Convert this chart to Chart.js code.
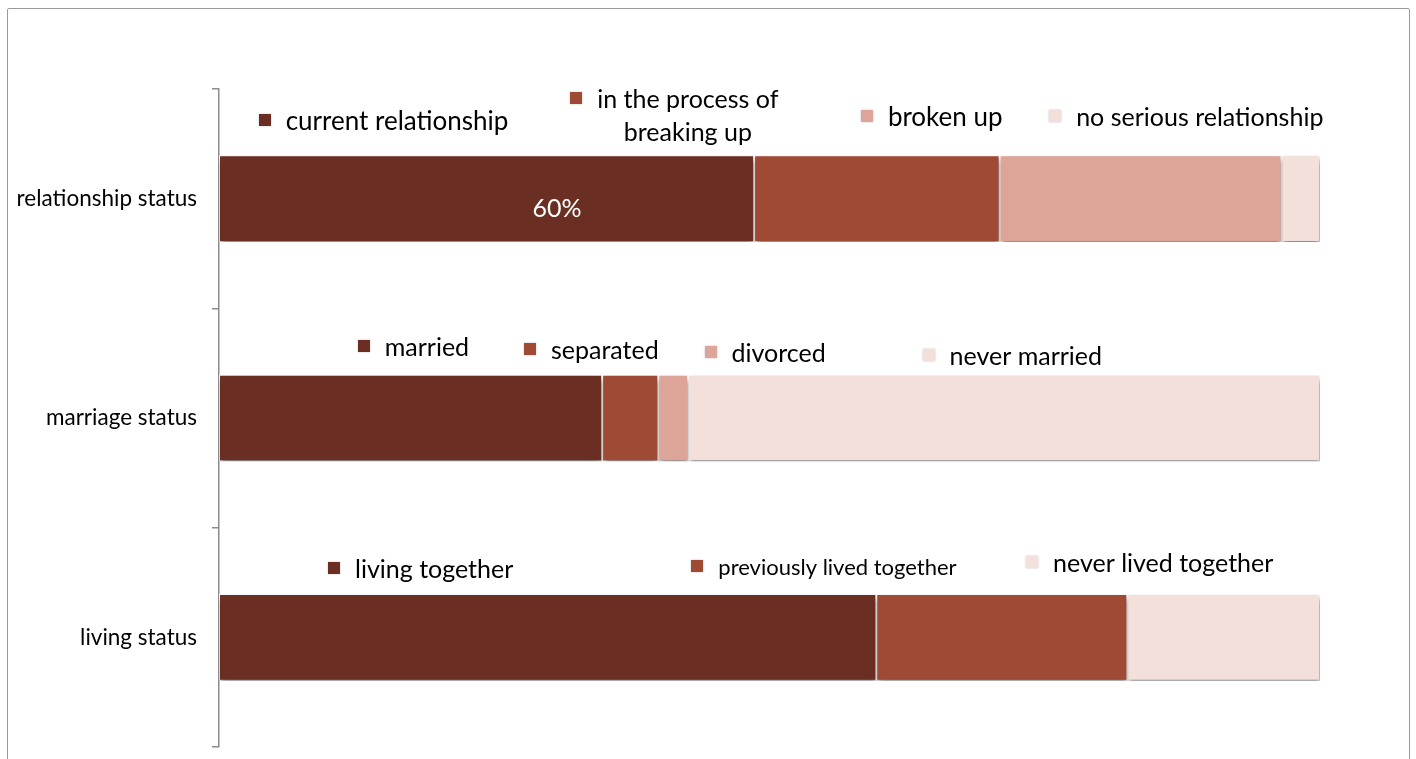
<!DOCTYPE html>
<html>
<head>
<meta charset="utf-8">
<script src="https://cdn.jsdelivr.net/npm/chart.js"></script>
<style>
  html, body { margin: 0; padding: 0; background: #fff; overflow: hidden; }
  #wrap { position: relative; width: 1416px; height: 759px; }
  #frame { position: absolute; left: 7px; top: 8px; width: 1401px; height: 800px; border: 1px solid #9a9a9a; border-radius: 2px; }
  canvas { position: absolute; left: 0; top: 0; }
</style>
</head>
<body>
<div id="wrap">
  <div id="frame"></div>
  <canvas id="myChart" width="1416" height="759"></canvas>
</div>
<script>
// categories (top to bottom)
var categories = ['relationship status', 'marriage status', 'living status'];

// segment values in percent, in stacking order
var darkValues = [48.6, 34.8, 59.7];
var mediumValues = [22.3, 5.1, 22.8];
var lightValues = [25.6, 2.7, null];
var paleValues = [3.5, 57.4, 17.5];

// segment names written above each bar
var relationshipLabels = ['current relationship', ['in the process of', 'breaking up'], 'broken up', 'no serious relationship'];
var marriageLabels = ['married', 'separated', 'divorced', 'never married'];
var livingLabels = ['living together', 'previously lived together', null, 'never lived together'];
var percentLabel = '60%';

var segmentLabels = [relationshipLabels, marriageLabels, livingLabels];

// looks
var colors = ['#6a2f22', '#9e4a35', '#dca597', '#f3e0db'];
var fontFamily = 'Lato, "Open Sans", sans-serif';

// where each name sits: [x in axis units, y offset from bar centre in px, font size]
var placement = [
    [[3.6, -77, 26], [31.9, -99, 25], [58.3, -81, 26], [75.4, -81, 25]],
    [[12.6, -70, 25], [27.7, -67, 25], [44.1, -64, 25], [63.9, -61, 25]],
    [[9.9, -67, 25], [42.9, -69, 22], null, [73.3, -73, 25]]
];
var percentPlacement = [30.7, 10, 25]; // x value, dy, size

var shadowPlugin = {
    id: 'barShadow',
    beforeDatasetsDraw: function(chart) {
        var ctx = chart.ctx;
        ctx.save();
        ctx.shadowColor = 'rgba(0,0,0,0.5)';
        ctx.shadowBlur = 6;
        ctx.shadowOffsetX = 1;
        ctx.shadowOffsetY = 4;
    },
    afterDatasetsDraw: function(chart) {
        chart.ctx.restore();
    }
};

var labelPlugin = {
    id: 'segmentNames',
    afterDraw: function(chart) {
        var ctx = chart.ctx;
        var xs = chart.scales.x;
        var ys = chart.scales.y;
        ctx.save();
        ctx.textBaseline = 'middle';
        for (var c = 0; c < categories.length; c++) {
            var cy = ys.getPixelForValue(c);
            for (var s = 0; s < 4; s++) {
                var name = segmentLabels[c][s];
                var p = placement[c][s];
                if (!name || !p) continue;
                var mx = xs.getPixelForValue(p[0]);
                var ty = cy + p[1];
                var lines = Array.isArray(name) ? name : [name];
                ctx.font = p[2] + 'px ' + fontFamily;
                // marker
                ctx.fillStyle = colors[s];
                ctx.shadowColor = 'rgba(0,0,0,0.25)';
                ctx.shadowBlur = 2;
                ctx.fillRect(Math.round(mx), Math.round(ty - 8), 12, 12);
                ctx.shadowColor = 'transparent';
                ctx.shadowBlur = 0;
                ctx.fillStyle = '#000';
                var tx = mx + 27;
                if (lines.length === 1) {
                    ctx.textAlign = 'left';
                    ctx.fillText(lines[0], tx, ty);
                } else {
                    var w = ctx.measureText(lines[0]).width;
                    ctx.textAlign = 'center';
                    for (var l = 0; l < lines.length; l++) {
                        ctx.fillText(lines[l], tx + w / 2, ty + l * 33);
                    }
                }
            }
        }
        // value label inside the first bar
        ctx.font = percentPlacement[2] + 'px ' + fontFamily;
        ctx.fillStyle = '#fff';
        ctx.textAlign = 'center';
        ctx.fillText(percentLabel, xs.getPixelForValue(percentPlacement[0]), ys.getPixelForValue(0) + percentPlacement[1]);
        ctx.restore();
    }
};

function makeSet(values, color) {
    return {
        data: values,
        backgroundColor: color,
        borderColor: '#ffffff',
        borderWidth: 1,
        borderSkipped: false,
        barPercentage: 0.395,
        categoryPercentage: 1.0
    };
}

var ctx = document.getElementById('myChart');
var myChart = new Chart(ctx, {
    type: 'bar',
    data: {
        labels: categories,
        datasets: [
            makeSet(darkValues, colors[0]),
            makeSet(mediumValues, colors[1]),
            makeSet(lightValues, colors[2]),
            makeSet(paleValues, colors[3])
        ]
    },
    options: {
        indexAxis: 'y',
        responsive: false,
        animation: false,
        layout: { padding: { left: 0, right: 96, top: 89, bottom: 12 } },
        plugins: {
            legend: { display: false },
            tooltip: { enabled: false }
        },
        scales: {
            x: {
                display: false,
                stacked: true,
                min: 0,
                max: 100
            },
            y: {
                stacked: true,
                afterFit: function(scale) {
                    scale.width = 219;
                    scale.paddingTop = 0;
                    scale.paddingBottom = 0;
                },
                grid: {
                    offset: true,
                    drawOnChartArea: false,
                    tickLength: 7,
                    color: '#8c8c8c',
                    lineWidth: 1.5
                },
                border: { display: true, color: '#8c8c8c', width: 1.5 },
                ticks: {
                    padding: 15,
                    color: '#000',
                    font: { family: fontFamily, size: 22.5 }
                }
            }
        }
    },
    plugins: [shadowPlugin, labelPlugin]
});
</script>
</body>
</html>
